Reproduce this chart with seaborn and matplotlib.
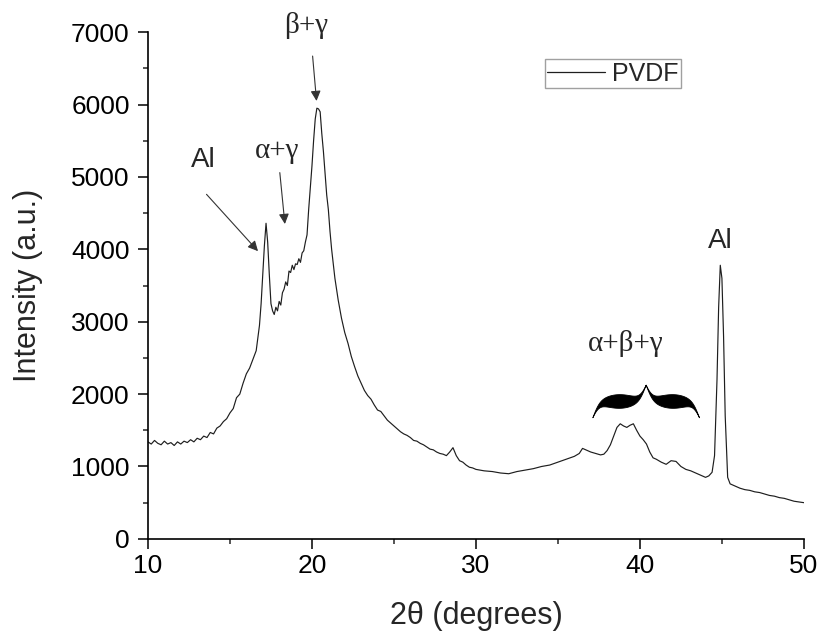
import numpy as np
import pandas as pd
import matplotlib
matplotlib.use("Agg")
import matplotlib.pyplot as plt
import seaborn as sns

# ---- data ----
two_theta = [10.0, 10.2, 10.4, 10.6, 10.8, 11.0, 11.2, 11.4, 11.6, 11.8, 12.0, 12.2, 12.4, 12.6, 12.8,
             13.0, 13.2, 13.4, 13.6, 13.8, 14.0, 14.2, 14.4, 14.6, 14.8, 15.0, 15.2, 15.4, 15.6, 15.8,
             16.0, 16.2, 16.4, 16.6, 16.8, 16.9, 17.0, 17.1, 17.2, 17.3, 17.4, 17.5, 17.6, 17.7, 17.8,
             17.9, 18.0, 18.1, 18.2, 18.3, 18.4, 18.5, 18.6, 18.7, 18.8, 18.9, 19.0, 19.1, 19.2, 19.3,
             19.4, 19.5, 19.6, 19.7, 19.8, 19.9, 20.0, 20.1, 20.2, 20.3, 20.4, 20.5, 20.6, 20.7, 20.8,
             20.9, 21.0, 21.1, 21.2, 21.3, 21.4, 21.5, 21.6, 21.8, 22.0, 22.2, 22.4, 22.6, 22.8, 23.0,
             23.2, 23.4, 23.6, 23.8, 24.0, 24.2, 24.4, 24.6, 24.8, 25.0, 25.2, 25.4, 25.6, 25.8, 26.0,
             26.2, 26.4, 26.6, 26.8, 27.0, 27.2, 27.4, 27.6, 27.8, 28.0, 28.2, 28.4, 28.6, 28.8, 29.0,
             29.2, 29.4, 29.6, 29.8, 30.0, 30.5, 31.0, 31.5, 32.0, 32.5, 33.0, 33.5, 34.0, 34.5, 35.0,
             35.5, 36.0, 36.3, 36.5, 36.7, 37.0, 37.3, 37.6, 37.8, 38.0, 38.2, 38.4, 38.6, 38.8, 39.0,
             39.2, 39.4, 39.6, 39.8, 40.0, 40.2, 40.4, 40.6, 40.8, 41.0, 41.3, 41.6, 41.9, 42.2, 42.5,
             42.8, 43.1, 43.4, 43.7, 44.0, 44.2, 44.4, 44.55, 44.7, 44.8, 44.9, 45.0, 45.1, 45.2, 45.35,
             45.5, 45.8, 46.1, 46.4, 46.7, 47.0, 47.3, 47.6, 47.9, 48.2, 48.5, 48.8, 49.1, 49.4, 49.7, 50.0]
intensity = [1340, 1310, 1360, 1320, 1300, 1350, 1310, 1330, 1290, 1340, 1310, 1350, 1330, 1370, 1340,
             1390, 1370, 1420, 1400, 1470, 1450, 1530, 1560, 1620, 1660, 1740, 1800, 1950, 2000, 2150,
             2280, 2360, 2480, 2600, 2950, 3250, 3650, 4050, 4360, 4100, 3650, 3250, 3150, 3100, 3200,
             3150, 3280, 3230, 3400, 3450, 3550, 3500, 3700, 3680, 3780, 3720, 3800, 3790, 3870, 3820,
             3950, 3980, 4100, 4200, 4550, 4850, 5150, 5500, 5800, 5950, 5940, 5900, 5600, 5350, 5050,
             4750, 4550, 4250, 4000, 3800, 3600, 3450, 3300, 3050, 2850, 2700, 2520, 2380, 2250, 2150,
             2050, 1980, 1930, 1850, 1780, 1760, 1700, 1640, 1600, 1560, 1520, 1480, 1450, 1430, 1400,
             1360, 1350, 1320, 1300, 1270, 1240, 1230, 1200, 1180, 1170, 1150, 1200, 1260, 1150, 1080,
             1060, 1020, 990, 980, 960, 940, 930, 910, 900, 930, 950, 970, 1000, 1020, 1060,
             1100, 1140, 1180, 1250, 1230, 1200, 1180, 1160, 1170, 1220, 1300, 1420, 1540, 1590, 1560,
             1540, 1570, 1590, 1500, 1420, 1370, 1310, 1200, 1120, 1100, 1060, 1030, 1080, 1070, 1000,
             960, 940, 910, 880, 850, 870, 920, 1150, 2200, 3200, 3780, 3600, 2800, 1700, 850,
             760, 730, 700, 680, 670, 650, 640, 620, 600, 590, 570, 560, 540, 520, 510, 500]

x_ticks = [10, 20, 30, 40, 50]
y_ticks = [0, 1000, 2000, 3000, 4000, 5000, 6000, 7000]
series_name = "PVDF"

df = pd.DataFrame({"two_theta": two_theta, "intensity": intensity, "sample": series_name})

sns.set_style("ticks")
plt.rcParams["font.family"] = ["Liberation Sans", "DejaVu Sans"]

fig = plt.figure(figsize=(8.22, 6.31), dpi=100)
ax = fig.add_axes([0.18, 0.146, 0.798, 0.803])

sns.lineplot(data=df, x="two_theta", y="intensity", hue="sample", palette=["#1e1e1e"],
             linewidth=0.85, ax=ax, legend=True)

ax.set_xlim(10, 50)
ax.set_ylim(0, 7000)
ax.set_xticks(x_ticks)
ax.set_yticks(y_ticks)
ax.set_xticks([15, 25, 35, 45], minor=True)
ax.set_yticks([500, 1500, 2500, 3500, 4500, 5500, 6500], minor=True)
ax.tick_params(axis="both", which="major", direction="out", length=7.2, width=1.1,
               labelsize=19, colors="black")
ax.tick_params(axis="y", which="major", pad=6)
ax.tick_params(axis="x", which="major", pad=4)
ax.tick_params(axis="both", which="minor", direction="out", length=3.6, width=1.1)
for s in ["top", "right"]:
    ax.spines[s].set_visible(False)
for s in ["left", "bottom"]:
    ax.spines[s].set_linewidth(1.2)
    ax.spines[s].set_color("black")

ax.set_xlabel("2θ (degrees)", fontsize=22, labelpad=16)
ax.set_ylabel("Intensity (a.u.)", fontsize=22, labelpad=20)

leg = ax.legend(loc="upper left", bbox_to_anchor=(0.605, 0.947), frameon=True, fancybox=False,
                fontsize=18, handlelength=2.3, handletextpad=0.3, borderpad=0.1,
                borderaxespad=0, title=None)
leg.get_frame().set_edgecolor("#888888")
leg.get_frame().set_linewidth(1.0)
for line in leg.get_lines():
    line.set_linewidth(0.9)

greek = {"family": ["Liberation Serif", "DejaVu Serif"], "fontsize": 21}
arrow = dict(arrowstyle="-|>", color="#333333", lw=0.8, mutation_scale=15, shrinkA=0, shrinkB=0)

ax.annotate("β+γ", xy=(20.28, 6050), xytext=(19.67, 7090), ha="center", va="center",
            annotation_clip=False, **greek)
ax.annotate("", xy=(20.28, 6050), xytext=(20.04, 6670), arrowprops=arrow)

ax.text(17.86, 5360, "α+γ", ha="center", va="center", **greek)
ax.annotate("", xy=(18.35, 4350), xytext=(18.04, 5060), arrowprops=arrow)

ax.text(13.35, 5230, "Al", ha="center", va="center", fontsize=20)
ax.annotate("", xy=(16.71, 3975), xytext=(13.57, 4760), arrowprops=arrow)

ax.text(44.92, 4110, "Al", ha="center", va="center", fontsize=20)
ax.text(39.16, 2700, "α+β+γ", ha="center", va="center", **greek)

# curly brace (decoration)
bx0, bx1, by0, bh = 37.1, 43.6, 1680, 450
n = 200
t = np.linspace(0, 0.5, n)
beta = 30.0
half = 1 / (1 + np.exp(-beta * (t - t[0]))) + 1 / (1 + np.exp(-beta * (t - t[-1])))
yb = np.concatenate((half, half[-2::-1])) - 0.5
tt = np.linspace(0, 1, 2 * n - 1)
thick = 0.42 * np.sin(np.pi * (tt % 0.5) / 0.5) ** 1.1
xs = bx0 + tt * (bx1 - bx0)
yc = by0 + yb * bh
ax.fill_between(xs, yc - thick * bh * 0.5, yc + thick * bh * 0.5, color="black", lw=0.6)

fig.savefig("out.png", dpi=100)
